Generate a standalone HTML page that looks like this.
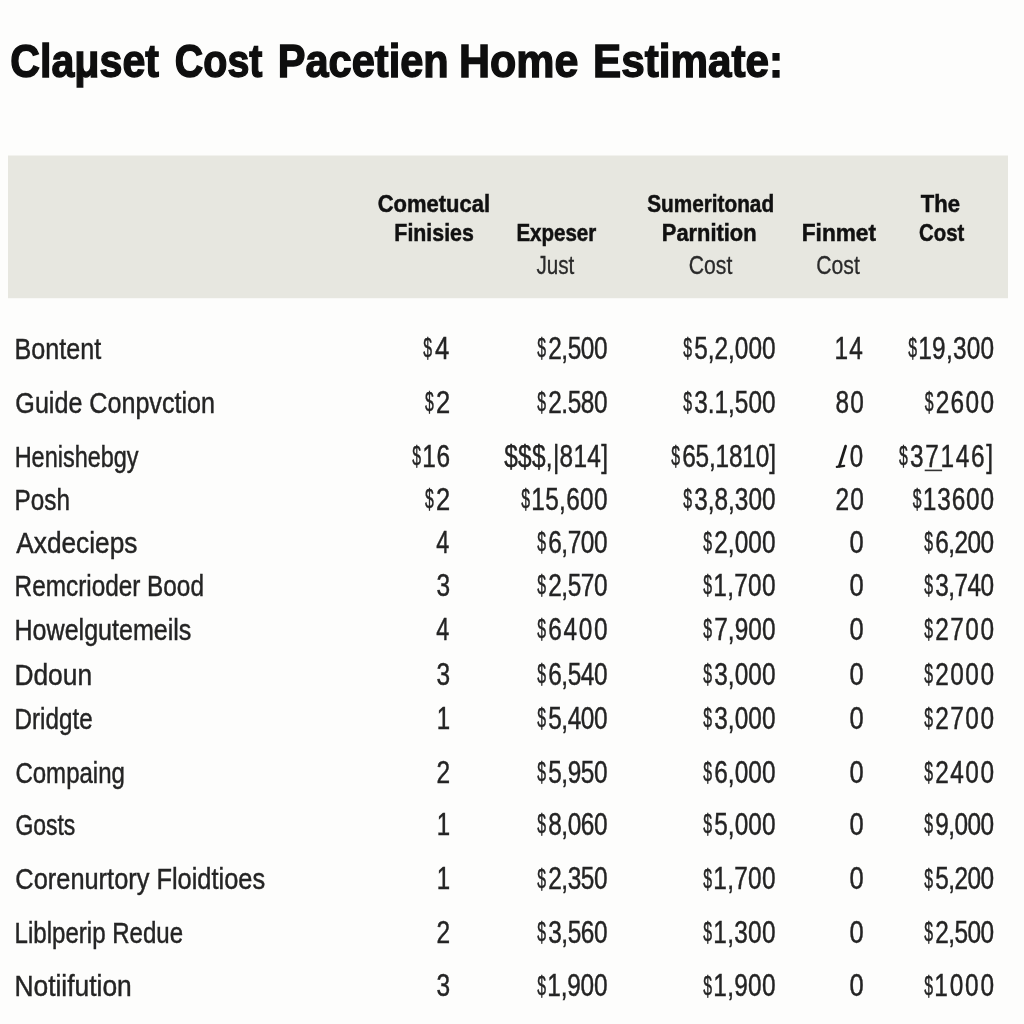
<!DOCTYPE html>
<html><head><meta charset="utf-8"><title>Cost Estimate</title>
<style>
html,body{margin:0;padding:0;width:1024px;height:1024px;overflow:hidden;background:#fdfdfc}
svg{display:block;filter:blur(0.35px)}
text{font-family:"Liberation Sans",sans-serif;white-space:pre}
</style></head><body>
<svg width="1024" height="1024" viewBox="0 0 1024 1024">
<rect x="0" y="0" width="1024" height="1024" fill="#fdfdfc"/>
<rect x="8" y="155.5" width="1000" height="142.7" fill="#e7e7e0"/>
<text x="10.32" y="77.00" font-size="47.00" font-weight="bold" stroke="#0e0e0e" stroke-width="1.4" fill="#0e0e0e" textLength="148.67" lengthAdjust="spacingAndGlyphs">Claμset</text>
<text x="174.86" y="77.00" font-size="47.00" font-weight="bold" stroke="#0e0e0e" stroke-width="1.4" fill="#0e0e0e" textLength="87.65" lengthAdjust="spacingAndGlyphs">Cost</text>
<text x="277.80" y="77.00" font-size="47.00" font-weight="bold" stroke="#0e0e0e" stroke-width="1.4" fill="#0e0e0e" textLength="170.90" lengthAdjust="spacingAndGlyphs">Pacetien</text>
<text x="458.96" y="77.00" font-size="47.00" font-weight="bold" stroke="#0e0e0e" stroke-width="1.4" fill="#0e0e0e" textLength="119.38" lengthAdjust="spacingAndGlyphs">Home</text>
<text x="593.00" y="77.00" font-size="47.00" font-weight="bold" stroke="#0e0e0e" stroke-width="1.4" fill="#0e0e0e" textLength="190.18" lengthAdjust="spacingAndGlyphs">Estimate:</text>
<text x="377.75" y="211.75" font-size="24.00" font-weight="bold" stroke="#111" stroke-width="0.5" fill="#111" textLength="112.28" lengthAdjust="spacingAndGlyphs">Cometucal</text>
<text x="394.36" y="241.25" font-size="24.00" font-weight="bold" stroke="#111" stroke-width="0.5" fill="#111" textLength="79.45" lengthAdjust="spacingAndGlyphs">Finisies</text>
<text x="516.39" y="241.25" font-size="24.00" font-weight="bold" stroke="#111" stroke-width="0.5" fill="#111" textLength="79.90" lengthAdjust="spacingAndGlyphs">Expeser</text>
<text x="536.40" y="273.50" font-size="25.00" stroke="#2a2a2a" stroke-width="0.3" fill="#2a2a2a" textLength="37.91" lengthAdjust="spacingAndGlyphs">Just</text>
<text x="647.25" y="211.75" font-size="24.00" font-weight="bold" stroke="#111" stroke-width="0.5" fill="#111" textLength="126.82" lengthAdjust="spacingAndGlyphs">Sumeritonad</text>
<text x="661.84" y="241.25" font-size="24.00" font-weight="bold" stroke="#111" stroke-width="0.5" fill="#111" textLength="94.76" lengthAdjust="spacingAndGlyphs">Parnition</text>
<text x="688.80" y="273.50" font-size="25.00" stroke="#2a2a2a" stroke-width="0.3" fill="#2a2a2a" textLength="43.50" lengthAdjust="spacingAndGlyphs">Cost</text>
<text x="801.81" y="241.25" font-size="24.00" font-weight="bold" stroke="#111" stroke-width="0.5" fill="#111" textLength="74.19" lengthAdjust="spacingAndGlyphs">Finmet</text>
<text x="816.30" y="273.50" font-size="25.00" stroke="#2a2a2a" stroke-width="0.3" fill="#2a2a2a" textLength="43.50" lengthAdjust="spacingAndGlyphs">Cost</text>
<text x="920.85" y="211.75" font-size="24.00" font-weight="bold" stroke="#111" stroke-width="0.5" fill="#111" textLength="39.22" lengthAdjust="spacingAndGlyphs">The</text>
<text x="919.05" y="241.25" font-size="24.00" font-weight="bold" stroke="#111" stroke-width="0.5" fill="#111" textLength="45.19" lengthAdjust="spacingAndGlyphs">Cost</text>
<text x="14.52" y="358.75" font-size="29.50" stroke="#242424" stroke-width="0.45" fill="#242424" textLength="86.72" lengthAdjust="spacingAndGlyphs">Bontent</text>
<text x="423.23" y="357.15" font-size="28.00" stroke="#242424" stroke-width="0.45" fill="#242424" textLength="8.81" lengthAdjust="spacingAndGlyphs">$</text>
<text transform="translate(434.93 358.75) scale(0.8441 1)" font-size="30.50" stroke="#242424" stroke-width="0.45" fill="#242424" letter-spacing="0.000">4</text>
<text x="537.23" y="357.15" font-size="28.00" stroke="#242424" stroke-width="0.45" fill="#242424" textLength="8.81" lengthAdjust="spacingAndGlyphs">$</text>
<text transform="translate(548.13 358.75) scale(0.8000 1)" font-size="30.50" stroke="#242424" stroke-width="0.45" fill="#242424" letter-spacing="-0.512">2,500</text>
<text x="683.23" y="357.15" font-size="28.00" stroke="#242424" stroke-width="0.45" fill="#242424" textLength="8.81" lengthAdjust="spacingAndGlyphs">$</text>
<text transform="translate(694.13 358.75) scale(0.8000 1)" font-size="30.50" stroke="#242424" stroke-width="0.45" fill="#242424" letter-spacing="0.002">5,2,000</text>
<text transform="translate(834.62 358.75) scale(0.8000 1)" font-size="30.50" stroke="#242424" stroke-width="0.45" fill="#242424" letter-spacing="1.475">14</text>
<text x="908.23" y="357.15" font-size="28.00" stroke="#242424" stroke-width="0.45" fill="#242424" textLength="8.81" lengthAdjust="spacingAndGlyphs">$</text>
<text transform="translate(918.33 358.75) scale(0.8000 1)" font-size="30.50" stroke="#242424" stroke-width="0.45" fill="#242424" letter-spacing="0.273">19,300</text>
<text x="15.37" y="412.50" font-size="29.50" stroke="#242424" stroke-width="0.45" fill="#242424" textLength="199.60" lengthAdjust="spacingAndGlyphs">Guide Conpvction</text>
<text x="425.03" y="410.90" font-size="28.00" stroke="#242424" stroke-width="0.45" fill="#242424" textLength="8.81" lengthAdjust="spacingAndGlyphs">$</text>
<text transform="translate(435.89 412.50) scale(0.8367 1)" font-size="30.50" stroke="#242424" stroke-width="0.45" fill="#242424" letter-spacing="0.000">2</text>
<text x="537.23" y="410.90" font-size="28.00" stroke="#242424" stroke-width="0.45" fill="#242424" textLength="8.81" lengthAdjust="spacingAndGlyphs">$</text>
<text transform="translate(548.13 412.50) scale(0.8000 1)" font-size="30.50" stroke="#242424" stroke-width="0.45" fill="#242424" letter-spacing="-0.512">2.580</text>
<text x="683.23" y="410.90" font-size="28.00" stroke="#242424" stroke-width="0.45" fill="#242424" textLength="8.81" lengthAdjust="spacingAndGlyphs">$</text>
<text transform="translate(694.13 412.50) scale(0.8000 1)" font-size="30.50" stroke="#242424" stroke-width="0.45" fill="#242424" letter-spacing="0.002">3.1,500</text>
<text transform="translate(835.43 412.50) scale(0.8000 1)" font-size="30.50" stroke="#242424" stroke-width="0.45" fill="#242424" letter-spacing="1.475">80</text>
<text x="924.73" y="410.90" font-size="28.00" stroke="#242424" stroke-width="0.45" fill="#242424" textLength="8.81" lengthAdjust="spacingAndGlyphs">$</text>
<text transform="translate(935.63 412.50) scale(0.8000 1)" font-size="30.50" stroke="#242424" stroke-width="0.45" fill="#242424" letter-spacing="1.725">2600</text>
<text x="14.63" y="466.50" font-size="29.50" stroke="#242424" stroke-width="0.45" fill="#242424" textLength="123.94" lengthAdjust="spacingAndGlyphs">Henishebgy</text>
<text x="412.23" y="464.90" font-size="28.00" stroke="#242424" stroke-width="0.45" fill="#242424" textLength="8.81" lengthAdjust="spacingAndGlyphs">$</text>
<text transform="translate(422.32 466.50) scale(0.8000 1)" font-size="30.50" stroke="#242424" stroke-width="0.45" fill="#242424" letter-spacing="0.725">16</text>
<text transform="translate(504.23 466.50) scale(0.8000 1)" font-size="30.50" stroke="#242424" stroke-width="0.45" fill="#242424" letter-spacing="0.377">$$$,|814]</text>
<text x="671.23" y="464.90" font-size="28.00" stroke="#242424" stroke-width="0.45" fill="#242424" textLength="8.81" lengthAdjust="spacingAndGlyphs">$</text>
<text transform="translate(682.13 466.50) scale(0.8000 1)" font-size="30.50" stroke="#242424" stroke-width="0.45" fill="#242424" letter-spacing="-0.205">65,1810]</text>
<text transform="translate(849.74 466.50) scale(0.7900 1)" font-size="30.50" stroke="#242424" stroke-width="0.45" fill="#242424" letter-spacing="0.000">0</text>
<text x="899.12" y="464.90" font-size="28.00" stroke="#242424" stroke-width="0.45" fill="#242424" textLength="8.81" lengthAdjust="spacingAndGlyphs">$</text>
<text transform="translate(910.03 466.50) scale(0.8000 1)" font-size="30.50" stroke="#242424" stroke-width="0.45" fill="#242424" letter-spacing="2.075">37146]</text>
<text x="14.58" y="510.00" font-size="29.50" stroke="#242424" stroke-width="0.45" fill="#242424" textLength="55.35" lengthAdjust="spacingAndGlyphs">Posh</text>
<text x="425.03" y="508.40" font-size="28.00" stroke="#242424" stroke-width="0.45" fill="#242424" textLength="8.81" lengthAdjust="spacingAndGlyphs">$</text>
<text transform="translate(435.89 510.00) scale(0.8367 1)" font-size="30.50" stroke="#242424" stroke-width="0.45" fill="#242424" letter-spacing="0.000">2</text>
<text x="521.23" y="508.40" font-size="28.00" stroke="#242424" stroke-width="0.45" fill="#242424" textLength="8.81" lengthAdjust="spacingAndGlyphs">$</text>
<text transform="translate(531.33 510.00) scale(0.8000 1)" font-size="30.50" stroke="#242424" stroke-width="0.45" fill="#242424" letter-spacing="0.398">15,600</text>
<text x="683.23" y="508.40" font-size="28.00" stroke="#242424" stroke-width="0.45" fill="#242424" textLength="8.81" lengthAdjust="spacingAndGlyphs">$</text>
<text transform="translate(694.13 510.00) scale(0.8000 1)" font-size="30.50" stroke="#242424" stroke-width="0.45" fill="#242424" letter-spacing="0.002">3,8,300</text>
<text transform="translate(835.43 510.00) scale(0.8000 1)" font-size="30.50" stroke="#242424" stroke-width="0.45" fill="#242424" letter-spacing="1.475">20</text>
<text x="912.73" y="508.40" font-size="28.00" stroke="#242424" stroke-width="0.45" fill="#242424" textLength="8.81" lengthAdjust="spacingAndGlyphs">$</text>
<text transform="translate(922.83 510.00) scale(0.8000 1)" font-size="30.50" stroke="#242424" stroke-width="0.45" fill="#242424" letter-spacing="1.053">13600</text>
<text x="16.23" y="553.00" font-size="29.50" stroke="#242424" stroke-width="0.45" fill="#242424" textLength="121.22" lengthAdjust="spacingAndGlyphs">Axdecieps</text>
<text transform="translate(436.23 553.00) scale(0.7676 1)" font-size="30.50" stroke="#242424" stroke-width="0.45" fill="#242424" letter-spacing="0.000">4</text>
<text x="537.23" y="551.40" font-size="28.00" stroke="#242424" stroke-width="0.45" fill="#242424" textLength="8.81" lengthAdjust="spacingAndGlyphs">$</text>
<text transform="translate(548.13 553.00) scale(0.8000 1)" font-size="30.50" stroke="#242424" stroke-width="0.45" fill="#242424" letter-spacing="-0.512">6,700</text>
<text x="703.23" y="551.40" font-size="28.00" stroke="#242424" stroke-width="0.45" fill="#242424" textLength="8.81" lengthAdjust="spacingAndGlyphs">$</text>
<text transform="translate(714.13 553.00) scale(0.8000 1)" font-size="30.50" stroke="#242424" stroke-width="0.45" fill="#242424" letter-spacing="0.113">2,000</text>
<text transform="translate(849.39 553.00) scale(0.8367 1)" font-size="30.50" stroke="#242424" stroke-width="0.45" fill="#242424" letter-spacing="0.000">0</text>
<text x="924.23" y="551.40" font-size="28.00" stroke="#242424" stroke-width="0.45" fill="#242424" textLength="8.81" lengthAdjust="spacingAndGlyphs">$</text>
<text transform="translate(935.13 553.00) scale(0.8000 1)" font-size="30.50" stroke="#242424" stroke-width="0.45" fill="#242424" letter-spacing="-0.669">6,200</text>
<text x="14.58" y="596.00" font-size="29.50" stroke="#242424" stroke-width="0.45" fill="#242424" textLength="189.36" lengthAdjust="spacingAndGlyphs">Remcrioder Bood</text>
<text transform="translate(436.42 596.00) scale(0.8033 1)" font-size="30.50" stroke="#242424" stroke-width="0.45" fill="#242424" letter-spacing="0.000">3</text>
<text x="537.23" y="594.40" font-size="28.00" stroke="#242424" stroke-width="0.45" fill="#242424" textLength="8.81" lengthAdjust="spacingAndGlyphs">$</text>
<text transform="translate(548.13 596.00) scale(0.8000 1)" font-size="30.50" stroke="#242424" stroke-width="0.45" fill="#242424" letter-spacing="-0.512">2,570</text>
<text x="703.23" y="594.40" font-size="28.00" stroke="#242424" stroke-width="0.45" fill="#242424" textLength="8.81" lengthAdjust="spacingAndGlyphs">$</text>
<text transform="translate(713.33 596.00) scale(0.8000 1)" font-size="30.50" stroke="#242424" stroke-width="0.45" fill="#242424" letter-spacing="0.363">1,700</text>
<text transform="translate(849.39 596.00) scale(0.8367 1)" font-size="30.50" stroke="#242424" stroke-width="0.45" fill="#242424" letter-spacing="0.000">0</text>
<text x="924.23" y="594.40" font-size="28.00" stroke="#242424" stroke-width="0.45" fill="#242424" textLength="8.81" lengthAdjust="spacingAndGlyphs">$</text>
<text transform="translate(935.13 596.00) scale(0.8000 1)" font-size="30.50" stroke="#242424" stroke-width="0.45" fill="#242424" letter-spacing="-0.669">3,740</text>
<text x="14.53" y="640.00" font-size="29.50" stroke="#242424" stroke-width="0.45" fill="#242424" textLength="176.89" lengthAdjust="spacingAndGlyphs">Howelgutemeils</text>
<text transform="translate(436.23 640.00) scale(0.7676 1)" font-size="30.50" stroke="#242424" stroke-width="0.45" fill="#242424" letter-spacing="0.000">4</text>
<text x="537.23" y="638.40" font-size="28.00" stroke="#242424" stroke-width="0.45" fill="#242424" textLength="8.81" lengthAdjust="spacingAndGlyphs">$</text>
<text transform="translate(548.13 640.00) scale(0.8000 1)" font-size="30.50" stroke="#242424" stroke-width="0.45" fill="#242424" letter-spacing="2.142">6400</text>
<text x="703.23" y="638.40" font-size="28.00" stroke="#242424" stroke-width="0.45" fill="#242424" textLength="8.81" lengthAdjust="spacingAndGlyphs">$</text>
<text transform="translate(714.13 640.00) scale(0.8000 1)" font-size="30.50" stroke="#242424" stroke-width="0.45" fill="#242424" letter-spacing="0.113">7,900</text>
<text transform="translate(849.39 640.00) scale(0.8367 1)" font-size="30.50" stroke="#242424" stroke-width="0.45" fill="#242424" letter-spacing="0.000">0</text>
<text x="924.23" y="638.40" font-size="28.00" stroke="#242424" stroke-width="0.45" fill="#242424" textLength="8.81" lengthAdjust="spacingAndGlyphs">$</text>
<text transform="translate(935.13 640.00) scale(0.8000 1)" font-size="30.50" stroke="#242424" stroke-width="0.45" fill="#242424" letter-spacing="1.933">2700</text>
<text x="14.44" y="685.00" font-size="29.50" stroke="#242424" stroke-width="0.45" fill="#242424" textLength="77.59" lengthAdjust="spacingAndGlyphs">Ddoun</text>
<text transform="translate(436.42 685.00) scale(0.8033 1)" font-size="30.50" stroke="#242424" stroke-width="0.45" fill="#242424" letter-spacing="0.000">3</text>
<text x="537.23" y="683.40" font-size="28.00" stroke="#242424" stroke-width="0.45" fill="#242424" textLength="8.81" lengthAdjust="spacingAndGlyphs">$</text>
<text transform="translate(548.13 685.00) scale(0.8000 1)" font-size="30.50" stroke="#242424" stroke-width="0.45" fill="#242424" letter-spacing="-0.512">6,540</text>
<text x="703.23" y="683.40" font-size="28.00" stroke="#242424" stroke-width="0.45" fill="#242424" textLength="8.81" lengthAdjust="spacingAndGlyphs">$</text>
<text transform="translate(714.13 685.00) scale(0.8000 1)" font-size="30.50" stroke="#242424" stroke-width="0.45" fill="#242424" letter-spacing="0.113">3,000</text>
<text transform="translate(849.39 685.00) scale(0.8367 1)" font-size="30.50" stroke="#242424" stroke-width="0.45" fill="#242424" letter-spacing="0.000">0</text>
<text x="924.23" y="683.40" font-size="28.00" stroke="#242424" stroke-width="0.45" fill="#242424" textLength="8.81" lengthAdjust="spacingAndGlyphs">$</text>
<text transform="translate(935.13 685.00) scale(0.8000 1)" font-size="30.50" stroke="#242424" stroke-width="0.45" fill="#242424" letter-spacing="1.933">2000</text>
<text x="14.58" y="729.00" font-size="29.50" stroke="#242424" stroke-width="0.45" fill="#242424" textLength="78.02" lengthAdjust="spacingAndGlyphs">Dridgte</text>
<text transform="translate(436.65 729.00) scale(0.7893 1)" font-size="30.50" stroke="#242424" stroke-width="0.45" fill="#242424" letter-spacing="0.000">1</text>
<text x="537.23" y="727.40" font-size="28.00" stroke="#242424" stroke-width="0.45" fill="#242424" textLength="8.81" lengthAdjust="spacingAndGlyphs">$</text>
<text transform="translate(548.13 729.00) scale(0.8000 1)" font-size="30.50" stroke="#242424" stroke-width="0.45" fill="#242424" letter-spacing="-0.512">5,400</text>
<text x="703.23" y="727.40" font-size="28.00" stroke="#242424" stroke-width="0.45" fill="#242424" textLength="8.81" lengthAdjust="spacingAndGlyphs">$</text>
<text transform="translate(714.13 729.00) scale(0.8000 1)" font-size="30.50" stroke="#242424" stroke-width="0.45" fill="#242424" letter-spacing="0.113">3,000</text>
<text transform="translate(849.39 729.00) scale(0.8367 1)" font-size="30.50" stroke="#242424" stroke-width="0.45" fill="#242424" letter-spacing="0.000">0</text>
<text x="924.23" y="727.40" font-size="28.00" stroke="#242424" stroke-width="0.45" fill="#242424" textLength="8.81" lengthAdjust="spacingAndGlyphs">$</text>
<text transform="translate(935.13 729.00) scale(0.8000 1)" font-size="30.50" stroke="#242424" stroke-width="0.45" fill="#242424" letter-spacing="1.933">2700</text>
<text x="15.41" y="782.50" font-size="29.50" stroke="#242424" stroke-width="0.45" fill="#242424" textLength="109.51" lengthAdjust="spacingAndGlyphs">Compaing</text>
<text transform="translate(436.42 782.50) scale(0.8033 1)" font-size="30.50" stroke="#242424" stroke-width="0.45" fill="#242424" letter-spacing="0.000">2</text>
<text x="537.23" y="780.90" font-size="28.00" stroke="#242424" stroke-width="0.45" fill="#242424" textLength="8.81" lengthAdjust="spacingAndGlyphs">$</text>
<text transform="translate(548.13 782.50) scale(0.8000 1)" font-size="30.50" stroke="#242424" stroke-width="0.45" fill="#242424" letter-spacing="-0.512">5,950</text>
<text x="703.23" y="780.90" font-size="28.00" stroke="#242424" stroke-width="0.45" fill="#242424" textLength="8.81" lengthAdjust="spacingAndGlyphs">$</text>
<text transform="translate(714.13 782.50) scale(0.8000 1)" font-size="30.50" stroke="#242424" stroke-width="0.45" fill="#242424" letter-spacing="0.113">6,000</text>
<text transform="translate(849.39 782.50) scale(0.8367 1)" font-size="30.50" stroke="#242424" stroke-width="0.45" fill="#242424" letter-spacing="0.000">0</text>
<text x="924.23" y="780.90" font-size="28.00" stroke="#242424" stroke-width="0.45" fill="#242424" textLength="8.81" lengthAdjust="spacingAndGlyphs">$</text>
<text transform="translate(935.13 782.50) scale(0.8000 1)" font-size="30.50" stroke="#242424" stroke-width="0.45" fill="#242424" letter-spacing="1.933">2400</text>
<text x="15.45" y="835.00" font-size="29.50" stroke="#242424" stroke-width="0.45" fill="#242424" textLength="59.91" lengthAdjust="spacingAndGlyphs">Gosts</text>
<text transform="translate(436.65 835.00) scale(0.7893 1)" font-size="30.50" stroke="#242424" stroke-width="0.45" fill="#242424" letter-spacing="0.000">1</text>
<text x="537.23" y="833.40" font-size="28.00" stroke="#242424" stroke-width="0.45" fill="#242424" textLength="8.81" lengthAdjust="spacingAndGlyphs">$</text>
<text transform="translate(548.13 835.00) scale(0.8000 1)" font-size="30.50" stroke="#242424" stroke-width="0.45" fill="#242424" letter-spacing="-0.512">8,060</text>
<text x="703.23" y="833.40" font-size="28.00" stroke="#242424" stroke-width="0.45" fill="#242424" textLength="8.81" lengthAdjust="spacingAndGlyphs">$</text>
<text transform="translate(714.13 835.00) scale(0.8000 1)" font-size="30.50" stroke="#242424" stroke-width="0.45" fill="#242424" letter-spacing="0.113">5,000</text>
<text transform="translate(849.39 835.00) scale(0.8367 1)" font-size="30.50" stroke="#242424" stroke-width="0.45" fill="#242424" letter-spacing="0.000">0</text>
<text x="924.23" y="833.40" font-size="28.00" stroke="#242424" stroke-width="0.45" fill="#242424" textLength="8.81" lengthAdjust="spacingAndGlyphs">$</text>
<text transform="translate(935.13 835.00) scale(0.8000 1)" font-size="30.50" stroke="#242424" stroke-width="0.45" fill="#242424" letter-spacing="-0.669">9,000</text>
<text x="15.36" y="889.20" font-size="29.50" stroke="#242424" stroke-width="0.45" fill="#242424" textLength="249.76" lengthAdjust="spacingAndGlyphs">Corenurtory Floidtioes</text>
<text transform="translate(436.65 889.20) scale(0.7893 1)" font-size="30.50" stroke="#242424" stroke-width="0.45" fill="#242424" letter-spacing="0.000">1</text>
<text x="537.23" y="887.60" font-size="28.00" stroke="#242424" stroke-width="0.45" fill="#242424" textLength="8.81" lengthAdjust="spacingAndGlyphs">$</text>
<text transform="translate(548.13 889.20) scale(0.8000 1)" font-size="30.50" stroke="#242424" stroke-width="0.45" fill="#242424" letter-spacing="-0.512">2,350</text>
<text x="703.23" y="887.60" font-size="28.00" stroke="#242424" stroke-width="0.45" fill="#242424" textLength="8.81" lengthAdjust="spacingAndGlyphs">$</text>
<text transform="translate(713.33 889.20) scale(0.8000 1)" font-size="30.50" stroke="#242424" stroke-width="0.45" fill="#242424" letter-spacing="0.363">1,700</text>
<text transform="translate(849.39 889.20) scale(0.8367 1)" font-size="30.50" stroke="#242424" stroke-width="0.45" fill="#242424" letter-spacing="0.000">0</text>
<text x="924.23" y="887.60" font-size="28.00" stroke="#242424" stroke-width="0.45" fill="#242424" textLength="8.81" lengthAdjust="spacingAndGlyphs">$</text>
<text transform="translate(935.13 889.20) scale(0.8000 1)" font-size="30.50" stroke="#242424" stroke-width="0.45" fill="#242424" letter-spacing="-0.669">5,200</text>
<text x="14.59" y="942.50" font-size="29.50" stroke="#242424" stroke-width="0.45" fill="#242424" textLength="168.51" lengthAdjust="spacingAndGlyphs">Liblperip Redue</text>
<text transform="translate(436.42 942.50) scale(0.8033 1)" font-size="30.50" stroke="#242424" stroke-width="0.45" fill="#242424" letter-spacing="0.000">2</text>
<text x="537.23" y="940.90" font-size="28.00" stroke="#242424" stroke-width="0.45" fill="#242424" textLength="8.81" lengthAdjust="spacingAndGlyphs">$</text>
<text transform="translate(548.13 942.50) scale(0.8000 1)" font-size="30.50" stroke="#242424" stroke-width="0.45" fill="#242424" letter-spacing="-0.512">3,560</text>
<text x="703.23" y="940.90" font-size="28.00" stroke="#242424" stroke-width="0.45" fill="#242424" textLength="8.81" lengthAdjust="spacingAndGlyphs">$</text>
<text transform="translate(713.33 942.50) scale(0.8000 1)" font-size="30.50" stroke="#242424" stroke-width="0.45" fill="#242424" letter-spacing="0.363">1,300</text>
<text transform="translate(849.39 942.50) scale(0.8367 1)" font-size="30.50" stroke="#242424" stroke-width="0.45" fill="#242424" letter-spacing="0.000">0</text>
<text x="924.23" y="940.90" font-size="28.00" stroke="#242424" stroke-width="0.45" fill="#242424" textLength="8.81" lengthAdjust="spacingAndGlyphs">$</text>
<text transform="translate(935.13 942.50) scale(0.8000 1)" font-size="30.50" stroke="#242424" stroke-width="0.45" fill="#242424" letter-spacing="-0.669">2,500</text>
<text x="14.44" y="996.40" font-size="29.50" stroke="#242424" stroke-width="0.45" fill="#242424" textLength="117.30" lengthAdjust="spacingAndGlyphs">Notiifution</text>
<text transform="translate(436.42 996.40) scale(0.8033 1)" font-size="30.50" stroke="#242424" stroke-width="0.45" fill="#242424" letter-spacing="0.000">3</text>
<text x="537.23" y="994.80" font-size="28.00" stroke="#242424" stroke-width="0.45" fill="#242424" textLength="8.81" lengthAdjust="spacingAndGlyphs">$</text>
<text transform="translate(547.33 996.40) scale(0.8000 1)" font-size="30.50" stroke="#242424" stroke-width="0.45" fill="#242424" letter-spacing="-0.262">1,900</text>
<text x="703.23" y="994.80" font-size="28.00" stroke="#242424" stroke-width="0.45" fill="#242424" textLength="8.81" lengthAdjust="spacingAndGlyphs">$</text>
<text transform="translate(713.33 996.40) scale(0.8000 1)" font-size="30.50" stroke="#242424" stroke-width="0.45" fill="#242424" letter-spacing="0.363">1,900</text>
<text transform="translate(849.39 996.40) scale(0.8367 1)" font-size="30.50" stroke="#242424" stroke-width="0.45" fill="#242424" letter-spacing="0.000">0</text>
<text x="924.23" y="994.80" font-size="28.00" stroke="#242424" stroke-width="0.45" fill="#242424" textLength="8.81" lengthAdjust="spacingAndGlyphs">$</text>
<text transform="translate(934.33 996.40) scale(0.8000 1)" font-size="30.50" stroke="#242424" stroke-width="0.45" fill="#242424" letter-spacing="2.267">1000</text>
<rect x="924.7" y="469.6" width="17.4" height="1.6" fill="#333"/>
<path d="M845.6 446.2 L839.4 466" stroke="#1c1c1c" stroke-width="2.8" stroke-linecap="round" fill="none"/>
<path d="M836.8 466.8 L844.2 465.8" stroke="#1c1c1c" stroke-width="2.2" stroke-linecap="round" fill="none"/>
</svg>
</body></html>
